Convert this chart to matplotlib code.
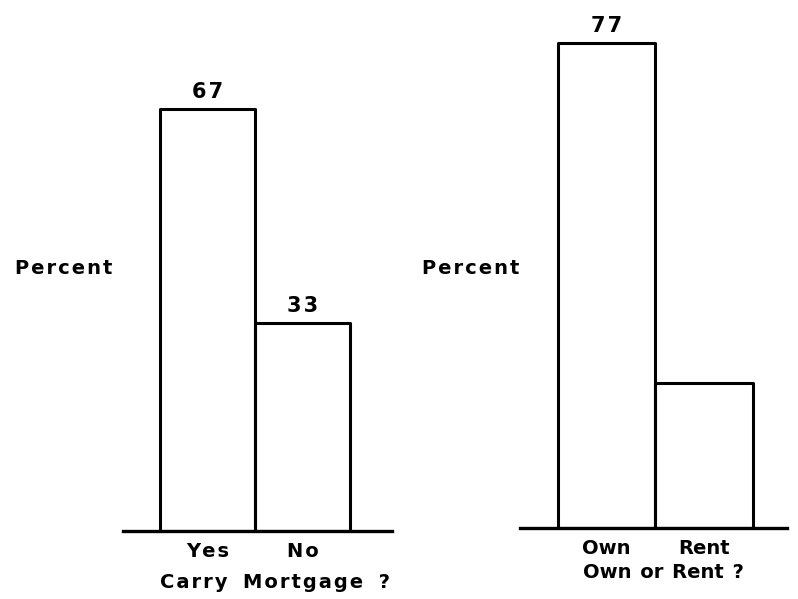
import matplotlib
matplotlib.use("Agg")
import matplotlib.pyplot as plt

# Data
mortgage_cats = ["Yes", "No"]
mortgage_vals = [67, 33]
mortgage_labels = ["67", "33"]
home_cats = ["Own", "Rent"]
home_vals = [77, 23]
home_labels = ["77", ""]
left_title = "Carry Mortgage ?"
right_title = "Own or Rent ?"
ylabel = "Percent"

W, H = 798, 599
fig = plt.figure(figsize=(W / 100, H / 100), dpi=100)
FONT = dict(family="DejaVu Sans", fontweight="bold", color="black")
PX_PER_UNIT = 6.3

def spaced(s, gap="\u200a", word="  "):
    words = s.split(" ")
    return word.join(gap.join(w) for w in words)

def panel(x0, x1, base, xlim, cats, vals, labels, title, title_x, title_y, tick_gap):
    ax = fig.add_axes([x0 / W, (H - base) / H, (x1 - x0) / W, base / H])
    ax.set_xlim(*xlim)
    ax.set_ylim(0, base / PX_PER_UNIT)
    ax.bar(range(len(vals)), vals, width=1.0, fill=False, edgecolor="black",
           linewidth=2.2, joinstyle="round")
    ax.axhline(0, color="black", linewidth=2.4, clip_on=False)
    for i, (v, lab) in enumerate(zip(vals, labels)):
        if lab:
            ax.annotate(spaced(lab), (i, v), xytext=(0, 5), textcoords="offset points",
                        ha="center", va="bottom", fontsize=15, **FONT)
    for s in ax.spines.values():
        s.set_visible(False)
    ax.set_yticks([])
    ax.set_xticks(range(len(cats)))
    ax.set_xticklabels([spaced(c, gap=tick_gap) for c in cats], fontsize=14, **FONT)
    ax.tick_params(axis="x", length=0, pad=8)
    fig.text(title_x / W, 1 - title_y / H, title, ha="center", va="center",
             fontsize=14, **FONT)
    return ax

panel(123, 392, 531, (-0.89, 1.94), mortgage_cats, mortgage_vals, mortgage_labels,
      spaced(left_title, word="  \u200a"), 275, 582, "\u200a")
panel(520, 787, 528, (-0.89, 1.85), home_cats, home_vals, home_labels,
      spaced(right_title, gap="", word=" \u200a"), 663, 573, "")

fig.text(15 / W, 1 - 268 / H, spaced(ylabel), ha="left", va="center", fontsize=14, **FONT)
fig.text(422 / W, 1 - 268 / H, spaced(ylabel), ha="left", va="center", fontsize=14, **FONT)

fig.savefig("out.png", dpi=100, facecolor="white")
